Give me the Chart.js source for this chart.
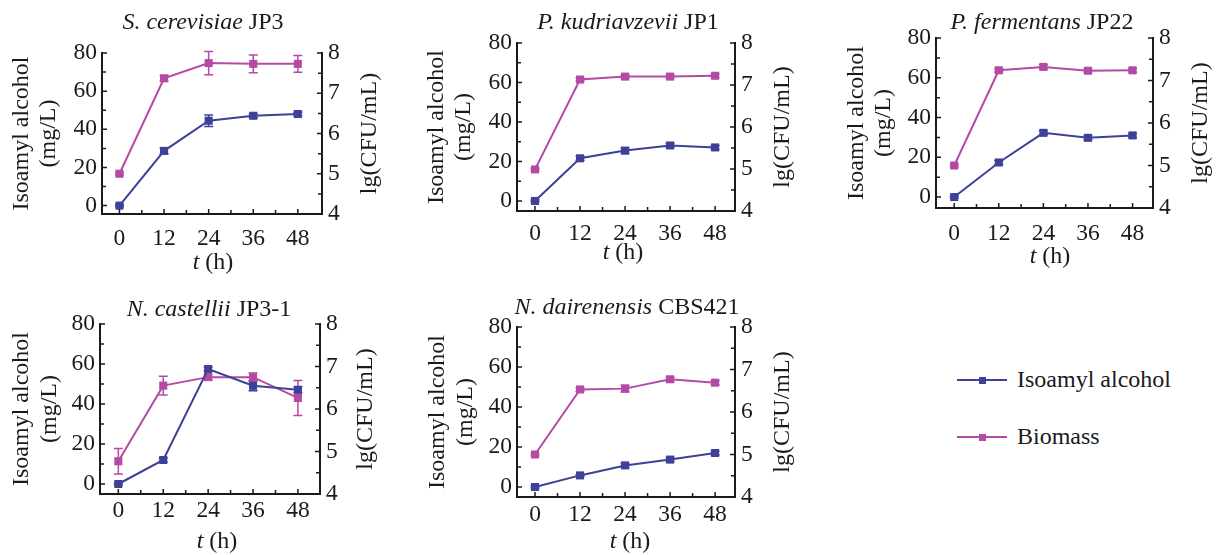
<!DOCTYPE html>
<html><head><meta charset="utf-8">
<script src="https://cdn.jsdelivr.net/npm/chart.js@4.4.0/dist/chart.umd.min.js"></script>
<style>
html,body{margin:0;padding:0;background:#fff;}
body{width:1219px;height:555px;position:relative;overflow:hidden;font-family:"Liberation Serif","Times New Roman",serif;color:#1a1a1a;}
canvas{position:absolute;}
.lg-line{position:absolute;height:2px;}
.lg-mark{position:absolute;width:7px;height:7px;}
.lg-text{position:absolute;font-size:24px;line-height:30px;white-space:nowrap;}
</style></head><body>
<canvas id="c0"></canvas><canvas id="c1"></canvas><canvas id="c2"></canvas><canvas id="c3"></canvas><canvas id="c4"></canvas>
<div id="legend"></div>
<script>
// ---------- data ----------
const hours = [0, 12, 24, 36, 48];
const seriesNames = ['Isoamyl alcohol', 'Biomass'];
const speciesNames = ['S. cerevisiae', 'P. kudriavzevii', 'P. fermentans', 'N. castellii', 'N. dairenensis'];
const strainNames = ['JP3', 'JP1', 'JP22', 'JP3-1', 'CBS421'];

const isoScer = [0, 28.7, 44.5, 47.1, 48.0];
const isoScerErr = [0.5, 1.5, 3.0, 1.0, 1.0];
const bioScer = [5.0, 7.37, 7.75, 7.73, 7.73];
const bioScerErr = [0.03, 0.07, 0.29, 0.22, 0.21];

const isoPkud = [0, 21.6, 25.5, 28.1, 27.1];
const isoPkudErr = [0.5, 1.0, 1.5, 1.0, 1.0];
const bioPkud = [4.99, 7.13, 7.2, 7.2, 7.22];
const bioPkudErr = [0.03, 0.04, 0.04, 0.04, 0.04];

const isoPfer = [0, 17.4, 32.3, 29.8, 31.0];
const isoPferErr = [0.5, 1.0, 1.0, 1.0, 1.0];
const bioPfer = [5.0, 7.24, 7.32, 7.23, 7.24];
const bioPferErr = [0.03, 0.04, 0.05, 0.04, 0.04];

const isoNcas = [0, 12.0, 57.5, 49.1, 47.1];
const isoNcasErr = [0.5, 1.0, 1.0, 2.5, 1.5];
const bioNcas = [4.77, 6.55, 6.75, 6.75, 6.26];
const bioNcasErr = [0.3, 0.22, 0.06, 0.1, 0.41];

const isoNdai = [0, 5.8, 10.8, 13.7, 17.0];
const isoNdaiErr = [0.5, 0.5, 1.0, 1.0, 1.0];
const bioNdai = [5.0, 6.53, 6.55, 6.77, 6.69];
const bioNdaiErr = [0.03, 0.04, 0.08, 0.05, 0.05];

const isoSets = [isoScer, isoPkud, isoPfer, isoNcas, isoNdai];
const isoErrSets = [isoScerErr, isoPkudErr, isoPferErr, isoNcasErr, isoNdaiErr];
const bioSets = [bioScer, bioPkud, bioPfer, bioNcas, bioNdai];
const bioErrSets = [bioScerErr, bioPkudErr, bioPferErr, bioNcasErr, bioNdaiErr];

const xMajorTicks = [0, 12, 24, 36, 48];
const xMinorTicks = [6, 18, 30, 42];
const leftMajorTicks = [0, 20, 40, 60, 80];
const leftMinorTicks = [10, 30, 50, 70];
const rightMajorTicks = [4, 5, 6, 7, 8];
const rightMinorTicks = [4.5, 5.5, 6.5, 7.5];

const leftTitle = ['Isoamyl alcohol', '(mg/L)'];
const rightTitle = 'lg(CFU/mL)';
const xTitleItalic = 't';
const xTitleRest = ' (h)';

// ---------- layout / style ----------
const BLUE = '#3d4197';
const PINK = '#b54aa5';
const INK = '#1a1a1a';
const FONT = '"Liberation Serif", "Times New Roman", serif';
const FS = 24;
const TFS = 23.5;

// canvas box + plot rect per panel (page coords)
const layouts = [
  {x0:0,   y0:0,   w:400, h:280, L:102, R:322,  T:53,  B:214, xmin:-4.7, xmax:54.5, ylmin:-4.4, titleX:203, titleY:23, xtX:213, xtY:263, xtickPad:11, ltX:[22, 49], rtX:370},
  {x0:410, y0:0,   w:410, h:280, L:517, R:735,  T:43,  B:211, xmin:-4.8, xmax:53.3, ylmin:-5.1, titleX:628, titleY:23, xtX:623, xtY:253, xtickPad:9, ltX:[437, 464], rtX:783},
  {x0:830, y0:0,   w:389, h:280, L:936, R:1153, T:38,  B:208, xmin:-4.9, xmax:53.5, ylmin:-5.5, titleX:1042, titleY:23, xtX:1050, xtY:257, xtickPad:12, ltX:[857, 884], rtX:1201},
  {x0:0,   y0:280, w:400, h:275, L:100, R:320,  T:324, B:494, xmin:-4.9, xmax:53.9, ylmin:-5.0, titleX:209, titleY:310, xtX:217, xtY:542, xtickPad:3, ltX:[22, 50], rtX:366},
  {x0:410, y0:280, w:410, h:275, L:517, R:735,  T:327, B:497, xmin:-4.8, xmax:53.3, ylmin:-5.0, titleX:627, titleY:308, xtX:630, xtY:542, xtickPad:4, ltX:[438, 466], rtX:783}
];

const decoPlugin = {
  id: 'deco',
  beforeDatasetsDraw(chart) {
    const ctx = chart.ctx;
    chart.data.datasets.forEach((ds, di) => {
      const meta = chart.getDatasetMeta(di);
      const ys = chart.scales[ds.yAxisID];
      ctx.save();
      ctx.strokeStyle = ds.borderColor; ctx.lineWidth = 1.5;
      ctx.beginPath();
      meta.data.forEach((pt, i) => {
        const v = ds.data[i].y, e = ds.errors[i];
        const y1 = ys.getPixelForValue(v + e), y2 = ys.getPixelForValue(v - e);
        ctx.moveTo(pt.x, y1); ctx.lineTo(pt.x, y2);
        ctx.moveTo(pt.x - 4.5, y1); ctx.lineTo(pt.x + 4.5, y1);
        ctx.moveTo(pt.x - 4.5, y2); ctx.lineTo(pt.x + 4.5, y2);
      });
      ctx.stroke();
      ctx.restore();
    });
  },
  afterDraw(chart) {
    const o = chart.options.plugins.deco;
    const ctx = chart.ctx, a = chart.chartArea;
    const sx = chart.scales.x, yl = chart.scales.yL, yr = chart.scales.yR;
    ctx.save();
    ctx.strokeStyle = INK; ctx.lineWidth = 1.5;
    ctx.beginPath();
    [[xMajorTicks, 5], [xMinorTicks, 4]].forEach(([list, len]) => list.forEach(v => {
      const p = sx.getPixelForValue(v); ctx.moveTo(p, a.bottom); ctx.lineTo(p, a.bottom - len);
    }));
    [[leftMajorTicks, 5], [leftMinorTicks, 4]].forEach(([list, len]) => list.forEach(v => {
      const p = yl.getPixelForValue(v); ctx.moveTo(a.left, p); ctx.lineTo(a.left + len, p);
    }));
    [[rightMajorTicks, 5], [rightMinorTicks, 4]].forEach(([list, len]) => list.forEach(v => {
      const p = yr.getPixelForValue(v); ctx.moveTo(a.right, p); ctx.lineTo(a.right - len, p);
    }));
    ctx.stroke();
    ctx.fillStyle = INK; ctx.textBaseline = 'middle'; ctx.textAlign = 'left';
    const fi = 'italic ' + FS + 'px ' + FONT, fn = FS + 'px ' + FONT;
    // panel title
    ctx.font = fi; const w1 = ctx.measureText(o.italic + ' ').width;
    ctx.font = fn; const w2 = ctx.measureText(o.normal).width;
    let x = o.titleX - (w1 + w2) / 2;
    ctx.font = fi; ctx.fillText(o.italic, x, o.titleY);
    ctx.font = fn; ctx.fillText(o.normal, x + w1, o.titleY);
    // x-axis title
    ctx.font = fi; const t1 = ctx.measureText(xTitleItalic).width;
    ctx.font = fn; const t2 = ctx.measureText(xTitleRest).width;
    x = o.xtX - (t1 + t2) / 2;
    ctx.font = fi; ctx.fillText(xTitleItalic, x, o.xtY);
    ctx.font = fn; ctx.fillText(xTitleRest, x + t1, o.xtY);
    // vertical titles (both read bottom-to-top)
    const cy = (a.top + a.bottom) / 2;
    ctx.font = fn; ctx.textAlign = 'center';
    const vText = (txt, px) => {
      ctx.save(); ctx.translate(px, cy); ctx.rotate(-Math.PI / 2); ctx.fillText(txt, 0, 0); ctx.restore();
    };
    leftTitle.forEach((t, i) => vText(t, o.ltX[i]));
    vText(rightTitle, o.rtX);
    ctx.restore();
  }
};

layouts.forEach((Ly, k) => {
  const cv = document.getElementById('c' + k);
  cv.width = Ly.w; cv.height = Ly.h;
  cv.style.left = Ly.x0 + 'px'; cv.style.top = Ly.y0 + 'px';
  cv.style.width = Ly.w + 'px'; cv.style.height = Ly.h + 'px';
  const font = {family: FONT, size: TFS, lineHeight: 1.2};
  const border = {display: true, color: INK, width: 2};
  const grid = {display: true, drawOnChartArea: false, drawTicks: false};
  const mkData = (arr) => hours.map((h, i) => ({x: h, y: arr[i]}));
  new Chart(cv, {
    type: 'line',
    data: {
      datasets: [
        {label: seriesNames[0], data: mkData(isoSets[k]), errors: isoErrSets[k], yAxisID: 'yL',
         borderColor: BLUE, backgroundColor: BLUE, borderWidth: 2, pointStyle: 'rect', pointRadius: 5.7,
         pointBorderWidth: 0, tension: 0, clip: false},
        {label: seriesNames[1], data: mkData(bioSets[k]), errors: bioErrSets[k], yAxisID: 'yR',
         borderColor: PINK, backgroundColor: PINK, borderWidth: 2, pointStyle: 'rect', pointRadius: 5.7,
         pointBorderWidth: 0, tension: 0, clip: false}
      ]
    },
    options: {
      responsive: false, animation: false, devicePixelRatio: 1,
      layout: {padding: {top: Ly.T - Ly.y0, left: 0, right: 0, bottom: 0}},
      plugins: {
        legend: {display: false}, tooltip: {enabled: false},
        deco: {italic: speciesNames[k], normal: strainNames[k],
               titleX: Ly.titleX - Ly.x0, titleY: Ly.titleY - Ly.y0,
               xtX: Ly.xtX - Ly.x0, xtY: Ly.xtY - Ly.y0,
               ltX: Ly.ltX.map(v => v - Ly.x0), rtX: Ly.rtX - Ly.x0}
      },
      scales: {
        x: {type: 'linear', min: Ly.xmin, max: Ly.xmax,
            afterBuildTicks: s => { s.ticks = xMajorTicks.map(v => ({value: v})); },
            afterFit: s => { s.height = Ly.y0 + Ly.h - Ly.B; },
            grid, border,
            ticks: {font, color: INK, padding: Ly.xtickPad, maxRotation: 0, autoSkip: false}},
        yL: {type: 'linear', position: 'left', min: Ly.ylmin, max: 80,
             afterBuildTicks: s => { s.ticks = leftMajorTicks.map(v => ({value: v})); },
             afterFit: s => { s.width = Ly.L - Ly.x0; },
             grid, border,
             ticks: {font, color: INK, padding: 5}},
        yR: {type: 'linear', position: 'right', min: 4, max: 8,
             afterBuildTicks: s => { s.ticks = rightMajorTicks.map(v => ({value: v})); },
             afterFit: s => { s.width = Ly.x0 + Ly.w - Ly.R; },
             grid, border,
             ticks: {font, color: INK, padding: 6}}
      }
    },
    plugins: [decoPlugin]
  });
});

// ---------- legend (HTML) ----------
const legendRows = [{name: seriesNames[0], color: BLUE, y: 380}, {name: seriesNames[1], color: PINK, y: 437}];
const lg = document.getElementById('legend');
legendRows.forEach(r => {
  const line = document.createElement('div'); line.className = 'lg-line';
  line.style.cssText += `left:957px;top:${r.y - 1}px;width:50px;background:${r.color};`;
  const mk = document.createElement('div'); mk.className = 'lg-mark';
  mk.style.cssText += `left:${982 - 3.5}px;top:${r.y - 3.5}px;background:${r.color};`;
  const tx = document.createElement('div'); tx.className = 'lg-text';
  tx.style.cssText += `left:1017px;top:${r.y - 16}px;`;
  tx.textContent = r.name;
  lg.appendChild(line); lg.appendChild(mk); lg.appendChild(tx);
});
</script>
</body></html>
